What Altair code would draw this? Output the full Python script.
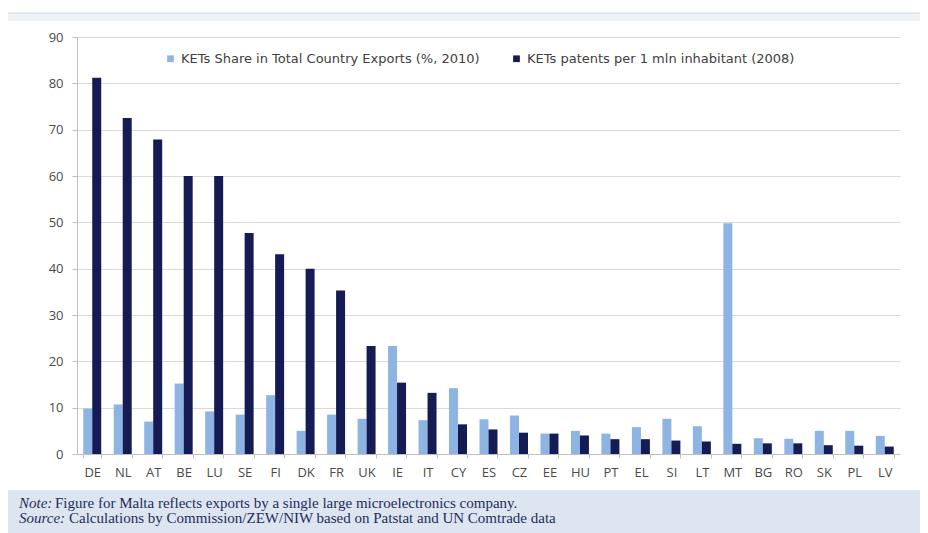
import altair as alt
import pandas as pd

countries = ["DE", "NL", "AT", "BE", "LU", "SE", "FI", "DK", "FR", "UK", "IE", "IT", "CY",
             "ES", "CZ", "EE", "HU", "PT", "EL", "SI", "LT", "MT", "BG", "RO", "SK", "PL", "LV"]
export_share = [9.8, 10.7, 7.0, 15.2, 9.2, 8.5, 12.7, 5.0, 8.5, 7.6, 23.3, 7.3, 14.2,
                7.5, 8.3, 4.4, 5.0, 4.4, 5.8, 7.6, 6.0, 49.8, 3.4, 3.3, 5.0, 5.0, 3.9]
patents = [81.2, 72.5, 67.9, 60.0, 60.0, 47.7, 43.1, 40.0, 35.3, 23.3, 15.4, 13.2, 6.4,
           5.3, 4.6, 4.4, 4.0, 3.2, 3.2, 2.9, 2.7, 2.2, 2.3, 2.3, 1.9, 1.8, 1.6]
series_names = ["KETs Share in Total Country Exports (%, 2010)",
                "KETs patents per 1 mln inhabitant (2008)"]
series_colors = ["#8EB4E3", "#151B54"]
y_ticks = [0, 10, 20, 30, 40, 50, 60, 70, 80, 90]
note_label = "Note:"
note_text = "Figure for Malta reflects exports by a single large microelectronics company."
source_label = "Source:"
source_text = "Calculations by Commission/ZEW/NIW based on Patstat and UN Comtrade data"

rows = []
for i, c in enumerate(countries):
    rows.append({"country": c, "series": series_names[0], "value": export_share[i]})
    rows.append({"country": c, "series": series_names[1], "value": patents[i]})
df = pd.DataFrame(rows)

W, H = 823, 417
one = pd.DataFrame({"a": [0]})

bars = alt.Chart(df).mark_bar().encode(
    x=alt.X("country:N", sort=countries,
            scale=alt.Scale(paddingInner=0.41, paddingOuter=0.205),
            axis=alt.Axis(title=None, labelAngle=0, labelFont="Open Sans", labelFontSize=13,
                          labelColor="#4a4a4a", labelPadding=8, tickBand="extent",
                          tickColor="#bfbfbf", tickSize=4, domainColor="#bfbfbf",
                          grid=False)),
    xOffset=alt.XOffset("series:N", sort=series_names, scale=alt.Scale(paddingInner=0, paddingOuter=0)),
    y=alt.Y("value:Q", scale=alt.Scale(domain=[0, 90], nice=False),
            axis=alt.Axis(title=None, values=y_ticks, labelFont="Open Sans", labelFontSize=13,
                          labelColor="#4a4a4a", labelPadding=9, tickSize=5,
                          tickColor="#bfbfbf", domainColor="#bfbfbf",
                          gridColor="#d9d9d9", gridWidth=1)),
    color=alt.Color("series:N", sort=series_names,
                    scale=alt.Scale(domain=series_names, range=series_colors),
                    legend=alt.Legend(title=None, orient="none", legendX=87, legendY=15,
                                      direction="horizontal", symbolType="square",
                                      symbolSize=45, symbolStrokeWidth=0,
                                      labelFont="DejaVu Sans", labelFontSize=13,
                                      labelColor="#404040", columnPadding=30,
                                      labelLimit=400, symbolOffset=0)),
)

top_band = alt.Chart(one).mark_rect(color="#eef2f7").encode(
    x=alt.value(-69), x2=alt.value(W + 20), y=alt.value(-24), y2=alt.value(-16))
top_line = alt.Chart(one).mark_rule(color="#cfd7e1", strokeWidth=1).encode(
    x=alt.value(-69), x2=alt.value(W + 20), y=alt.value(-24))

note_band = alt.Chart(one).mark_rect(color="#dce5f0").encode(
    x=alt.value(-69), x2=alt.value(W + 20), y=alt.value(453), y2=alt.value(500))

txt_style = dict(font="Liberation Serif", fontSize=15, color="#1f2d5a", align="left", baseline="alphabetic")
t1 = alt.Chart(one).mark_text(fontStyle="italic", **txt_style).encode(
    x=alt.value(-58), y=alt.value(471), text=alt.value(note_label))
t2 = alt.Chart(one).mark_text(**txt_style).encode(
    x=alt.value(-22), y=alt.value(471), text=alt.value(note_text))
t3 = alt.Chart(one).mark_text(fontStyle="italic", **txt_style).encode(
    x=alt.value(-58), y=alt.value(486), text=alt.value(source_label))
t4 = alt.Chart(one).mark_text(**txt_style).encode(
    x=alt.value(-8), y=alt.value(486), text=alt.value(source_text))

chart = alt.layer(top_band, top_line, note_band, bars, t1, t2, t3, t4).properties(
    width=W, height=H,
    padding={"left": 69, "top": 29, "right": 20, "bottom": 79},
    autosize=alt.AutoSizeParams(type="none"),
    background="white",
).configure_view(stroke=None)

chart.save("out.html", embed_options={"renderer": "svg", "actions": False})
